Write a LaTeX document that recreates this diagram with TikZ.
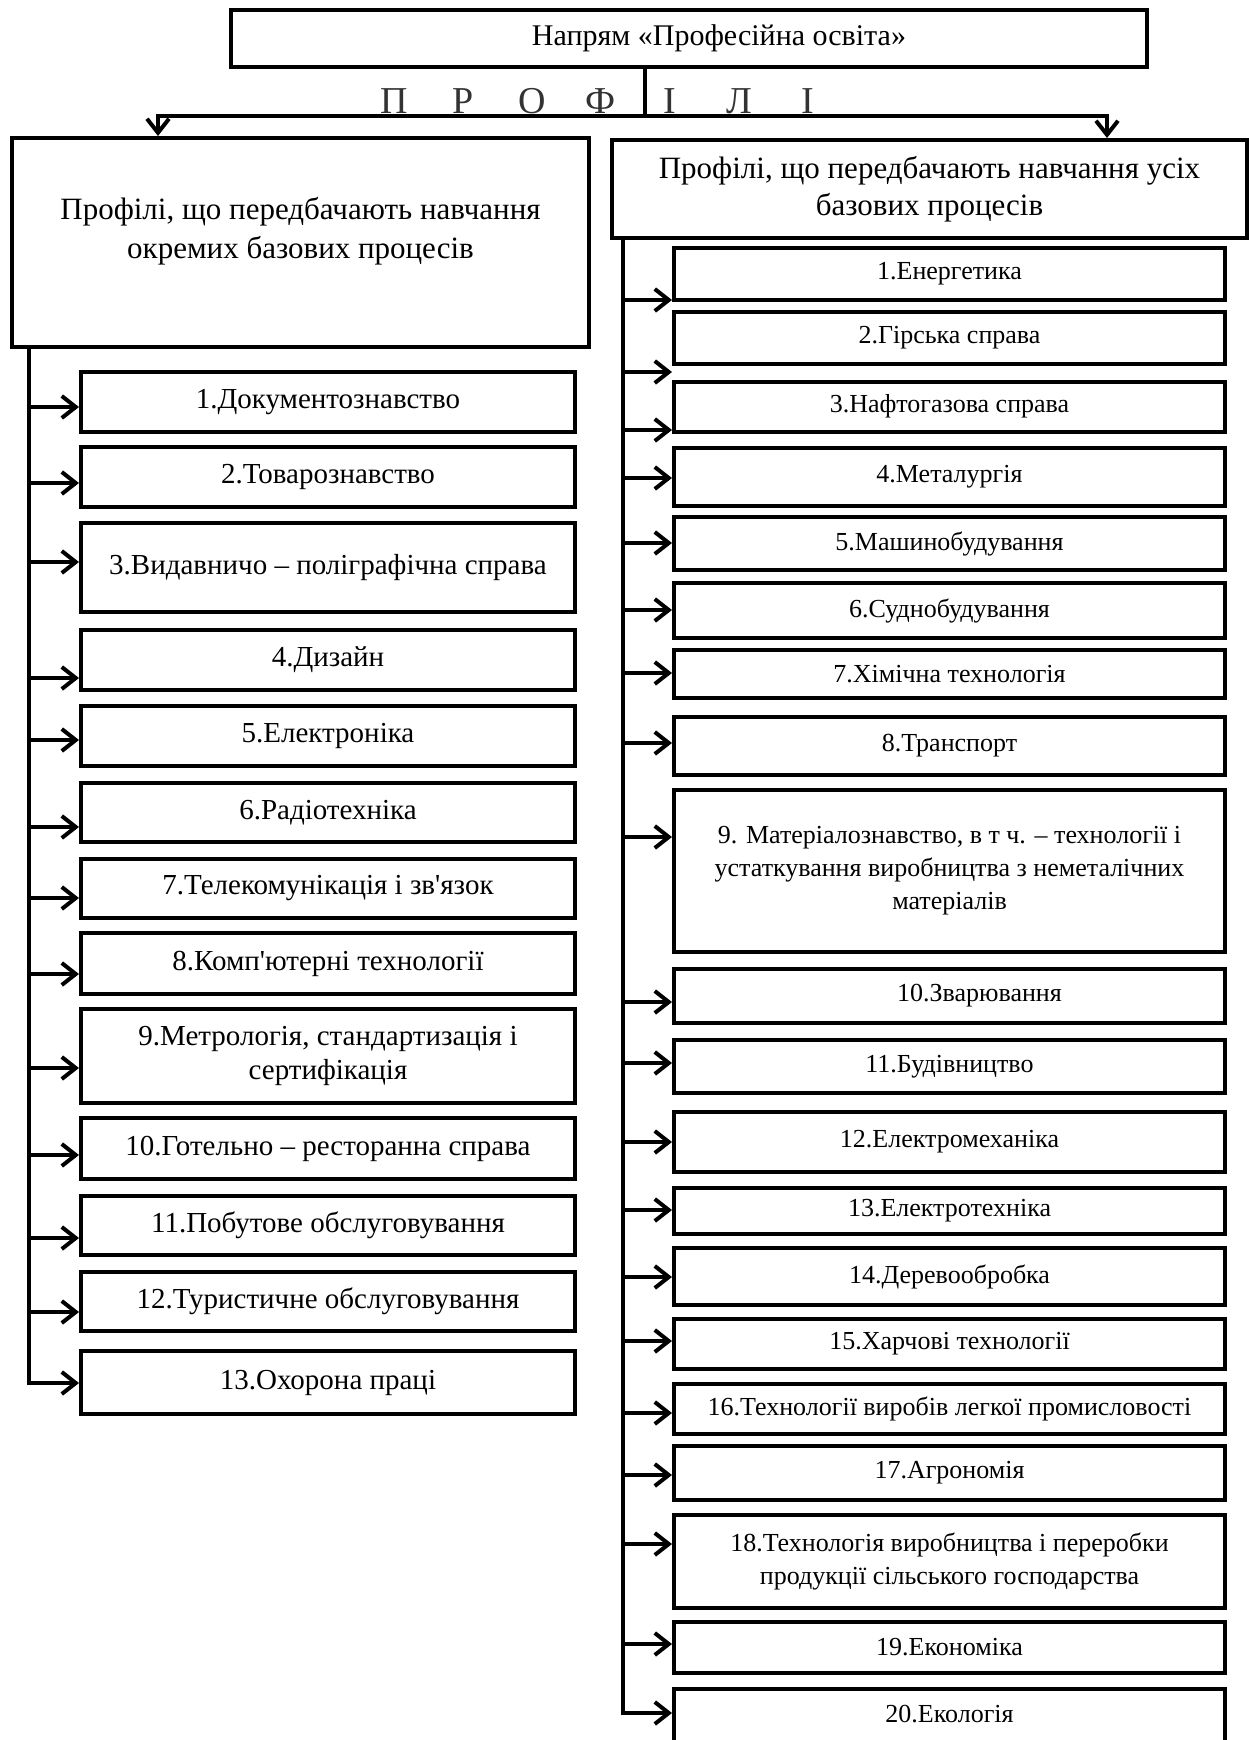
\documentclass[tikz,border=0pt]{standalone}
\usepackage{fontspec}
\setmainfont{Liberation Serif}
\usepackage{tikz}
\usetikzlibrary{arrows.meta, positioning}

\begin{document}
\begin{tikzpicture}[>={Straight Barb[length=14pt, width=22pt]}, x=1pt, y=-1pt, line width=4pt,
    profbox/.style={draw, line width=4pt, inner sep=3pt, align=center},
    lbox/.style={profbox, minimum width=494pt, font=\fontsize{29}{34}\selectfont},
    rbox/.style={profbox, minimum width=551pt, font=\fontsize{26}{33}\selectfont}]

    % =================================================================
    % 1. МЕЖІ РИСУНКА ТА ОПОРНІ ТОЧКИ
    % =================================================================
    \useasboundingbox (0,0) rectangle (1249,1740);

    % Розгалуження під заголовком
    \coordinate (fork) at (645,116);
    \coordinate (forkL) at (158,116);
    \coordinate (forkR) at (1107,116);

    % Точки стрілок лівої колонки
    \coordinate (la1) at (29,407);
    \coordinate (la2) at (29,483);
    \coordinate (la3) at (29,562);
    \coordinate (la4) at (29,678);
    \coordinate (la5) at (29,740);
    \coordinate (la6) at (29,827);
    \coordinate (la7) at (29,898);
    \coordinate (la8) at (29,974);
    \coordinate (la9) at (29,1068);
    \coordinate (la10) at (29,1155);
    \coordinate (la11) at (29,1238);
    \coordinate (la12) at (29,1312);
    \coordinate (la13) at (29,1383);

    % Точки стрілок правої колонки
    \coordinate (ra1) at (623,300);
    \coordinate (ra2) at (623,372);
    \coordinate (ra3) at (623,430);
    \coordinate (ra4) at (623,478);
    \coordinate (ra5) at (623,543);
    \coordinate (ra6) at (623,610);
    \coordinate (ra7) at (623,673);
    \coordinate (ra8) at (623,743);
    \coordinate (ra9) at (623,837);
    \coordinate (ra10) at (623,1002);
    \coordinate (ra11) at (623,1063);
    \coordinate (ra12) at (623,1142);
    \coordinate (ra13) at (623,1210);
    \coordinate (ra14) at (623,1277);
    \coordinate (ra15) at (623,1341);
    \coordinate (ra16) at (623,1413);
    \coordinate (ra17) at (623,1475);
    \coordinate (ra18) at (623,1544);
    \coordinate (ra19) at (623,1644);
    \coordinate (ra20) at (623,1713);

    % =================================================================
    % 2. ЗАГОЛОВОК І ДВА ГОЛОВНІ БЛОКИ
    % =================================================================
    \node[profbox, minimum width=916pt, minimum height=57pt, font=\fontsize{30}{34}\selectfont] (napr) at (689,38.5)
        {\hspace*{60pt}Напрям «Професійна освіта»};
    \node[anchor=base, font=\fontsize{38}{40}\selectfont, text=black!80] (prof) at (601,113)
        {\makebox[69pt]{П}\makebox[69pt]{Р}\makebox[69pt]{О}\makebox[69pt]{Ф}\makebox[69pt]{І}\makebox[69pt]{Л}\makebox[69pt]{І}};

    % текст трохи вище середини блока
    \node[profbox, minimum width=577pt, minimum height=209pt, font=\fontsize{31}{39}\selectfont] (lbig) at (300.5,242.5)
        {Профілі, що передбачають навчання\\окремих базових процесів\rule[-30pt]{0pt}{30pt}};
    \node[profbox, minimum width=635pt, minimum height=98pt, font=\fontsize{31}{37}\selectfont] (rbig) at (929.5,189)
        {Профілі, що передбачають навчання усіх\\базових процесів};

    % =================================================================
    % 3. ЛІВА КОЛОНКА
    % =================================================================
    \node[lbox, minimum height=60pt] (l1) at (328,402) {1.Документознавство};
    \node[lbox, minimum height=60pt] (l2) at (328,477) {2.Товарознавство};
    \node[lbox, minimum height=89pt] (l3) at (328,567.5) {3.Видавничо – поліграфічна справа};
    \node[lbox, minimum height=60pt] (l4) at (328,660) {4.Дизайн};
    \node[lbox, minimum height=60pt] (l5) at (328,736) {5.Електроніка};
    \node[lbox, minimum height=59pt] (l6) at (328,812.5) {6.Радіотехніка};
    \node[lbox, minimum height=59pt] (l7) at (328,888.5) {7.Телекомунікація і зв\textquotesingle язок};
    \node[lbox, minimum height=61pt] (l8) at (328,963.5) {8.Комп\textquotesingle ютерні технології};
    \node[lbox, minimum height=94pt] (l9) at (328,1056) {9.Метрологія, стандартизація і\\сертифікація};
    \node[lbox, minimum height=61pt] (l10) at (328,1148.5) {10.Готельно – ресторанна справа};
    \node[lbox, minimum height=59pt] (l11) at (328,1225.5) {11.Побутове обслуговування};
    \node[lbox, minimum height=59pt] (l12) at (328,1301.5) {12.Туристичне обслуговування};
    \node[lbox, minimum height=63pt] (l13) at (328,1382.5) {13.Охорона праці};

    % =================================================================
    % 4. ПРАВА КОЛОНКА
    % =================================================================
    \node[rbox, minimum height=52pt] (r1) at (949.5,274) {1.Енергетика};
    \node[rbox, minimum height=52pt] (r2) at (949.5,337.5) {2.Гірська справа};
    \node[rbox, minimum height=50pt] (r3) at (949.5,406.7) {3.Нафтогазова справа};
    \node[rbox, minimum height=58pt] (r4) at (949.5,477) {4.Металургія};
    \node[rbox, minimum height=53pt] (r5) at (949.5,543.5) {5.Машинобудування};
    \node[rbox, minimum height=55pt] (r6) at (949.5,610.5) {6.Суднобудування};
    \node[rbox, minimum height=48pt] (r7) at (949.5,674) {7.Хімічна технологія};
    \node[rbox, minimum height=58pt] (r8) at (949.5,746) {8.Транспорт};
    \node[rbox, minimum height=162pt] (r9) at (949.5,871)
        {9. Матеріалознавство, в т ч. – технології і\\устаткування виробництва з неметалічних\\матеріалів};
    \node[rbox, minimum height=54pt] (r10) at (949.5,996) {\hspace*{60pt}10.Зварювання};
    \node[rbox, minimum height=53pt] (r11) at (949.5,1066.5) {11.Будівництво};
    \node[rbox, minimum height=60pt] (r12) at (949.5,1142) {12.Електромеханіка};
    \node[rbox, minimum height=46pt] (r13) at (949.5,1211) {13.Електротехніка};
    \node[rbox, minimum height=57pt] (r14) at (949.5,1276.5) {14.Деревообробка};
    \node[rbox, minimum height=50pt] (r15) at (949.5,1344) {15.Харчові технології};
    \node[rbox, minimum height=50pt] (r16) at (949.5,1409) {16.Технології виробів легкої промисловості};
    \node[rbox, minimum height=54pt] (r17) at (949.5,1473) {17.Агрономія};
    \node[rbox, minimum height=93pt] (r18) at (949.5,1561.5)
        {18.Технологія виробництва і переробки\\продукції сільського господарства};
    \node[rbox, minimum height=51pt] (r19) at (949.5,1647.5) {19.Економіка};
    % останній блок обрізаний краєм рисунка
    \node[rbox, minimum height=94pt] (r20) at (949.5,1736) {\raisebox{45pt}{20.Екологія}};

    % =================================================================
    % 5. ЛІНІЇ ТА СТРІЛКИ
    % =================================================================
    \draw (napr.south -| fork) -- (fork);
    \draw[->] (fork) -- (forkL) -- (forkL |- lbig.north);
    \draw[->] (fork) -- (forkR) -- (forkR |- rbig.north);

    % Ліва вертикаль
    \draw[->] (lbig.south -| la13) -- (la13) -- (la13 -| l13.west);
    \draw[->] (la1) -- (la1 -| l1.west);
    \draw[->] (la2) -- (la2 -| l2.west);
    \draw[->] (la3) -- (la3 -| l3.west);
    \draw[->] (la4) -- (la4 -| l4.west);
    \draw[->] (la5) -- (la5 -| l5.west);
    \draw[->] (la6) -- (la6 -| l6.west);
    \draw[->] (la7) -- (la7 -| l7.west);
    \draw[->] (la8) -- (la8 -| l8.west);
    \draw[->] (la9) -- (la9 -| l9.west);
    \draw[->] (la10) -- (la10 -| l10.west);
    \draw[->] (la11) -- (la11 -| l11.west);
    \draw[->] (la12) -- (la12 -| l12.west);

    % Права вертикаль
    \draw[->] (rbig.south -| ra20) -- (ra20) -- (ra20 -| r20.west);
    \draw[->] (ra1) -- (ra1 -| r1.west);
    \draw[->] (ra2) -- (ra2 -| r2.west);
    \draw[->] (ra3) -- (ra3 -| r3.west);
    \draw[->] (ra4) -- (ra4 -| r4.west);
    \draw[->] (ra5) -- (ra5 -| r5.west);
    \draw[->] (ra6) -- (ra6 -| r6.west);
    \draw[->] (ra7) -- (ra7 -| r7.west);
    \draw[->] (ra8) -- (ra8 -| r8.west);
    \draw[->] (ra9) -- (ra9 -| r9.west);
    \draw[->] (ra10) -- (ra10 -| r10.west);
    \draw[->] (ra11) -- (ra11 -| r11.west);
    \draw[->] (ra12) -- (ra12 -| r12.west);
    \draw[->] (ra13) -- (ra13 -| r13.west);
    \draw[->] (ra14) -- (ra14 -| r14.west);
    \draw[->] (ra15) -- (ra15 -| r15.west);
    \draw[->] (ra16) -- (ra16 -| r16.west);
    \draw[->] (ra17) -- (ra17 -| r17.west);
    \draw[->] (ra18) -- (ra18 -| r18.west);
    \draw[->] (ra19) -- (ra19 -| r19.west);

\end{tikzpicture}
\end{document}
